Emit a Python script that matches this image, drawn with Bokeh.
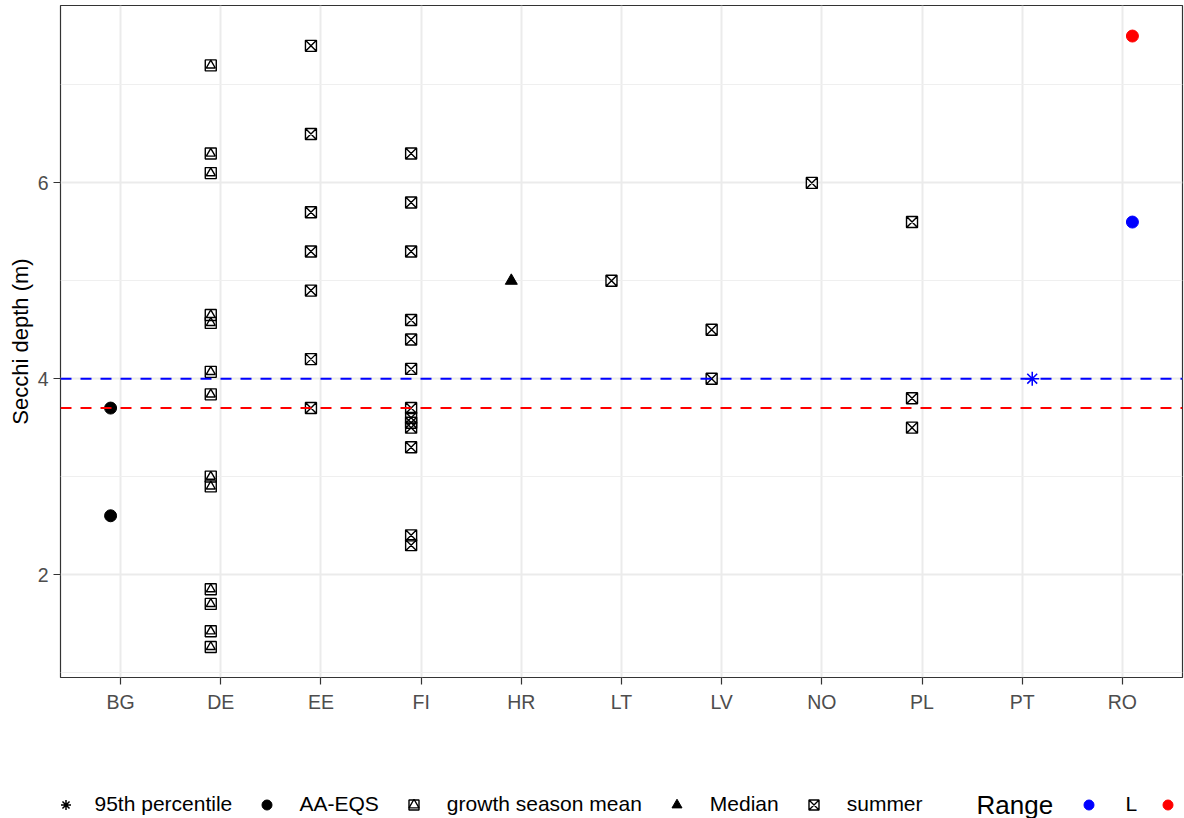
import pandas as pd
from bokeh.plotting import figure
from bokeh.layouts import column
from bokeh.models import (ColumnDataSource, FactorRange, Range1d, FixedTicker, Span,
                          Legend, LegendItem, Label)
from bokeh.transform import dodge
from bokeh.embed import file_html
from bokeh.resources import INLINE

# ---------------- data ----------------
countries = ["BG", "DE", "EE", "FI", "HR", "LT", "LV", "NO", "PL", "PT", "RO"]

obs_country = (["BG"] * 2 + ["DE"] * 13 + ["EE"] * 7 + ["FI"] * 13 + ["HR"] + ["LT"]
               + ["LV"] * 2 + ["NO"] + ["PL"] * 3 + ["PT"] + ["RO"] * 2)
obs_secchi = ([3.7, 2.6]
              + [7.2, 6.3, 6.1, 4.65, 4.57, 4.07, 3.84, 3.0, 2.9, 1.85, 1.7, 1.42, 1.26]
              + [7.4, 6.5, 5.7, 5.3, 4.9, 4.2, 3.7]
              + [6.3, 5.8, 5.3, 4.6, 4.4, 4.1, 3.7, 3.6, 3.55, 3.5, 3.3, 2.4, 2.3]
              + [5.0]
              + [5.0]
              + [4.5, 4.0]
              + [6.0]
              + [5.6, 3.8, 3.5]
              + [4.0]
              + [7.5, 5.6])
obs_metric = (["AA-EQS"] * 2 + ["growth season mean"] * 13 + ["summer"] * 7 + ["summer"] * 13
              + ["Median"] + ["summer"] + ["summer"] * 2 + ["summer"] + ["summer"] * 3
              + ["95th percentile"] + ["AA-EQS"] * 2)
obs_range = ([""] * 2 + [""] * 13 + [""] * 7 + [""] * 13 + [""] + [""] + [""] * 2 + [""]
             + [""] * 3 + ["L"] + ["H", "L"])

metrics = ["95th percentile", "AA-EQS", "growth season mean", "Median", "summer"]
range_title = "Range"
range_levels = ["L", "H"]

threshold_values = [4.0, 3.7]
threshold_ranges = ["L", "H"]

# ---------------- styles ----------------
range_colors = {"": "#000000", "L": "#0000FF", "H": "#FF0000"}
marker_spec = {
    "95th percentile": [dict(marker="asterisk", size=14, line_width=1.5, filled=False)],
    "AA-EQS": [dict(marker="circle", size=12, line_width=1, filled=True)],
    "growth season mean": [dict(marker="square", size=11, line_width=1.4, filled=False),
                           dict(marker="triangle", size=9, line_width=1.4, filled=False)],
    "Median": [dict(marker="triangle", size=12, line_width=1, filled=True)],
    "summer": [dict(marker="square_x", size=11, line_width=1.4, filled=False)],
}
FONT = "Liberation Sans"
NAN = float("nan")
W = 1184
MAIN_H = 720
LEG_H = 818 - MAIN_H
FRAME_LEFT = 60

df = pd.DataFrame(dict(country=obs_country, secchi=obs_secchi,
                       metric=obs_metric, rng=obs_range))
df["color"] = df["rng"].map(range_colors)

pad = 0.05 * (df["secchi"].max() - df["secchi"].min())

p = figure(width=W, height=MAIN_H,
           x_range=FactorRange(factors=countries, range_padding=0.1,
                               range_padding_units="absolute"),
           y_range=Range1d(df["secchi"].min() - pad, df["secchi"].max() + pad),
           output_backend="svg", toolbar_location=None,
           min_border_left=FRAME_LEFT, min_border_right=2, min_border_top=5,
           min_border_bottom=43)

p.background_fill_color = "white"
p.border_fill_color = "white"
p.outline_line_color = "#333333"
p.outline_line_width = 1.2

# grid
p.xgrid.grid_line_color = "#EBEBEB"
p.xgrid.grid_line_width = 2
p.ygrid.grid_line_color = "#EBEBEB"
p.ygrid.grid_line_width = 2
p.ygrid.minor_grid_line_color = "#EFEFEF"
p.ygrid.minor_grid_line_width = 1

# axes
p.yaxis.ticker = FixedTicker(ticks=[2, 4, 6], minor_ticks=[1, 3, 5, 7])
p.yaxis.axis_label = "Secchi depth (m)"
for ax in (p.xaxis[0], p.yaxis[0]):
    ax.axis_line_color = None
    ax.major_tick_line_color = "#333333"
    ax.major_tick_line_width = 1.2
    ax.major_tick_in = 0
    ax.major_tick_out = 7
    ax.minor_tick_line_color = None
    ax.major_label_text_font = FONT
    ax.major_label_text_font_size = "19.5px"
    ax.major_label_text_color = "#4D4D4D"
    ax.major_label_standoff = 5
    ax.axis_label_text_font = FONT
    ax.axis_label_text_font_size = "22px"
    ax.axis_label_text_font_style = "normal"
    ax.axis_label_text_color = "black"
p.xaxis.major_label_standoff = 6
p.yaxis.axis_label_standoff = 2

# points
for metric in metrics:
    sub = df[df["metric"] == metric]
    for has_range, off in ((False, -0.1), (True, 0.1)):
        part = sub[(sub["rng"] != "") == has_range]
        if len(part) == 0:
            continue
        src = ColumnDataSource(part)
        for spec in marker_spec[metric]:
            p.scatter(x=dodge("country", off, range=p.x_range), y="secchi", source=src,
                      marker=spec["marker"], size=spec["size"],
                      line_color="color", line_width=spec["line_width"],
                      fill_color="color" if spec["filled"] else None)

# threshold lines
for val, rg in zip(threshold_values, threshold_ranges):
    p.add_layout(Span(location=val, dimension="width", line_color=range_colors[rg],
                      line_width=2, line_dash="11 9"))

# ---------------- legend strip (frame aligned with the main plot frame) ----------------
lf = figure(width=W, height=LEG_H, x_range=Range1d(0, 1), y_range=Range1d(0, 1),
            output_backend="svg", toolbar_location=None,
            x_axis_location=None, y_axis_location=None,
            min_border_left=FRAME_LEFT, min_border_right=2, min_border_top=0,
            min_border_bottom=0)
lf.grid.visible = False
lf.outline_line_color = None
lf.background_fill_color = "white"
lf.border_fill_color = "white"

shape_items = []
for metric in metrics:
    rs = []
    for spec in marker_spec[metric]:
        rs.append(lf.scatter(x=[0.5], y=[NAN], marker=spec["marker"], size=spec["size"],
                             line_color="black", line_width=spec["line_width"],
                             fill_color="black" if spec["filled"] else None))
    shape_items.append(LegendItem(label=metric, renderers=rs))

range_items = []
for rg in range_levels:
    r = lf.scatter(x=[0.5], y=[NAN], marker="circle", size=12,
                   line_color=range_colors[rg], fill_color=range_colors[rg])
    range_items.append(LegendItem(label=rg, renderers=[r]))

base_style = dict(orientation="horizontal", glyph_width=25, glyph_height=25,
                  padding=0, margin=0, border_line_alpha=0, background_fill_alpha=0,
                  label_text_font=FONT, label_text_font_size="21px",
                  label_text_color="black", label_text_baseline="middle",
                  label_height=25, label_width=0)

row_mid = 818 - 804            # legend row centre, from strip bottom
leg_y = row_mid - 12.5

# first key kept just inside the strip's frame
leg_a = Legend(items=shape_items[:1], location=(52.5 - FRAME_LEFT, leg_y),
               label_standoff=17, spacing=0, **base_style)
leg_b = Legend(items=shape_items[1:], location=(253.5 - FRAME_LEFT, leg_y),
               label_standoff=21, spacing=22, **base_style)
leg_r = Legend(items=range_items, location=(1075.5 - FRAME_LEFT, leg_y),
               label_standoff=25, spacing=18, **base_style)
for lg in (leg_a, leg_b, leg_r):
    lf.add_layout(lg, "center")

lf.add_layout(Label(x=976 - FRAME_LEFT, y=row_mid, x_units="screen", y_units="screen",
                    text=range_title, text_font=FONT, text_font_size="26px",
                    text_color="black", text_baseline="middle"))

layout = column(p, lf, spacing=0)
open("out.html", "w").write(file_html(layout, INLINE))
